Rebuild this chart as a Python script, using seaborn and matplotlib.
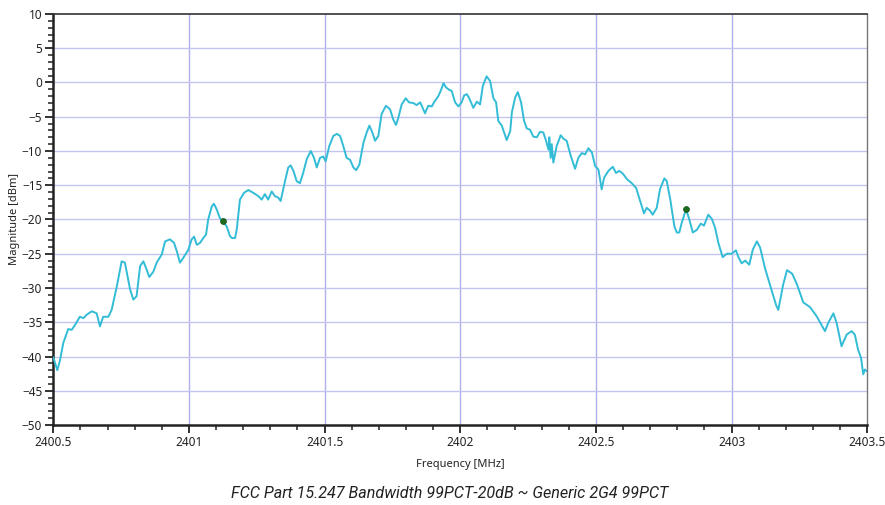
import numpy as np
import pandas as pd
import matplotlib
matplotlib.use("Agg")
import matplotlib.pyplot as plt
import seaborn as sns
from matplotlib.ticker import MultipleLocator

# Spectrum trace
freq_mhz = [
    2400.500, 2400.515, 2400.525, 2400.537, 2400.555, 2400.568, 2400.580, 2400.598,
    2400.611, 2400.623, 2400.642, 2400.660, 2400.672, 2400.684, 2400.703, 2400.715,
    2400.734, 2400.752, 2400.764, 2400.783, 2400.795, 2400.807, 2400.820, 2400.832,
    2400.844, 2400.854, 2400.869, 2400.881, 2400.900, 2400.912, 2400.930, 2400.945,
    2400.955, 2400.967, 2400.979, 2400.998, 2401.010, 2401.019, 2401.029, 2401.041,
    2401.053, 2401.063, 2401.071, 2401.084, 2401.092, 2401.102, 2401.114, 2401.124,
    2401.139, 2401.151, 2401.158, 2401.170, 2401.176, 2401.188, 2401.203, 2401.219,
    2401.237, 2401.256, 2401.268, 2401.280, 2401.292, 2401.305, 2401.317, 2401.329,
    2401.338, 2401.354, 2401.366, 2401.375, 2401.385, 2401.397, 2401.409, 2401.421,
    2401.434, 2401.449, 2401.461, 2401.471, 2401.483, 2401.495, 2401.504, 2401.517,
    2401.532, 2401.545, 2401.557, 2401.569, 2401.581, 2401.594, 2401.606, 2401.616,
    2401.628, 2401.643, 2401.655, 2401.665, 2401.674, 2401.686, 2401.698, 2401.710,
    2401.726, 2401.741, 2401.753, 2401.763, 2401.772, 2401.784, 2401.799, 2401.811,
    2401.827, 2401.839, 2401.852, 2401.858, 2401.870, 2401.882, 2401.895, 2401.903,
    2401.919, 2401.928, 2401.938, 2401.947, 2401.960, 2401.968, 2401.981, 2401.993,
    2402.005, 2402.014, 2402.024, 2402.033, 2402.048, 2402.061, 2402.073, 2402.083,
    2402.097, 2402.110, 2402.122, 2402.132, 2402.140, 2402.153, 2402.171, 2402.184,
    2402.190, 2402.202, 2402.212, 2402.224, 2402.235, 2402.245, 2402.257, 2402.269,
    2402.282, 2402.294, 2402.306, 2402.316, 2402.325, 2402.328, 2402.333, 2402.337,
    2402.343, 2402.355, 2402.370, 2402.380, 2402.392, 2402.407, 2402.423, 2402.435,
    2402.448, 2402.460, 2402.472, 2402.485, 2402.497, 2402.509, 2402.515, 2402.521,
    2402.530, 2402.546, 2402.562, 2402.574, 2402.586, 2402.599, 2402.614, 2402.632,
    2402.648, 2402.663, 2402.677, 2402.687, 2402.699, 2402.709, 2402.724, 2402.736,
    2402.752, 2402.761, 2402.774, 2402.789, 2402.798, 2402.807, 2402.816, 2402.832,
    2402.844, 2402.857, 2402.872, 2402.886, 2402.898, 2402.914, 2402.927, 2402.939,
    2402.951, 2402.967, 2402.982, 2403.000, 2403.016, 2403.025, 2403.037, 2403.050,
    2403.065, 2403.078, 2403.093, 2403.105, 2403.123, 2403.141, 2403.164, 2403.172,
    2403.190, 2403.204, 2403.223, 2403.241, 2403.264, 2403.289, 2403.313, 2403.344,
    2403.356, 2403.375, 2403.387, 2403.405, 2403.424, 2403.442, 2403.454, 2403.466,
    2403.477, 2403.485, 2403.491, 2403.500,
]
magnitude_dbm = [
    -40.1, -42.0, -40.5, -38.0, -36.0, -36.1, -35.4, -34.2,
    -34.4, -33.9, -33.4, -33.7, -35.6, -34.2, -34.2, -33.2,
    -29.8, -26.1, -26.3, -30.2, -31.7, -31.2, -26.8, -26.1,
    -27.3, -28.4, -27.6, -26.3, -25.1, -23.2, -22.9, -23.4,
    -24.6, -26.3, -25.6, -24.4, -22.9, -22.5, -23.7, -23.4,
    -22.7, -22.2, -20.0, -18.1, -17.7, -18.5, -19.8, -20.2,
    -21.0, -22.4, -22.7, -22.7, -21.5, -17.1, -16.1, -15.7,
    -16.1, -16.6, -17.1, -16.3, -17.1, -15.9, -16.6, -16.8,
    -17.3, -14.4, -12.4, -12.1, -12.9, -14.4, -14.7, -13.2,
    -11.2, -10.0, -11.0, -12.4, -11.0, -10.8, -11.5, -9.3,
    -7.8, -7.5, -7.8, -9.3, -11.0, -11.3, -12.4, -12.8,
    -12.0, -8.8, -7.3, -6.3, -7.1, -8.5, -7.8, -4.6,
    -3.4, -3.9, -5.4, -6.2, -5.1, -3.2, -2.3, -2.9,
    -3.0, -3.3, -2.9, -3.4, -4.5, -3.4, -3.5, -2.9,
    -2.0, -1.2, -0.1, -0.7, -1.1, -1.2, -2.9, -3.5,
    -2.9, -1.9, -1.7, -2.3, -3.7, -2.8, -3.2, -0.5,
    0.9, 0.2, -2.3, -2.9, -5.6, -6.3, -8.4, -7.1,
    -4.4, -2.2, -1.4, -2.9, -5.6, -6.7, -6.9, -7.9,
    -8.0, -7.2, -7.3, -8.5, -9.8, -8.0, -11.0, -9.0,
    -11.7, -9.3, -7.7, -8.2, -8.5, -10.7, -12.6, -11.0,
    -10.3, -10.5, -9.6, -10.2, -12.2, -12.7, -14.1, -15.6,
    -13.9, -12.9, -12.3, -13.2, -12.9, -13.3, -14.1, -14.7,
    -15.4, -17.3, -19.1, -18.3, -18.7, -19.3, -18.3, -15.6,
    -14.0, -14.4, -17.1, -21.0, -21.9, -21.9, -20.5, -18.5,
    -20.0, -21.9, -21.5, -20.6, -20.9, -19.3, -19.9, -21.2,
    -23.4, -25.5, -25.0, -25.0, -24.5, -25.5, -26.4, -26.0,
    -26.6, -24.4, -23.2, -24.1, -27.1, -29.5, -32.5, -33.2,
    -29.5, -27.4, -27.9, -29.5, -32.1, -32.8, -34.1, -36.3,
    -35.1, -33.7, -35.1, -38.5, -36.8, -36.3, -36.8, -39.0,
    -40.2, -42.6, -41.9, -42.2,
]

# -20 dB bandwidth markers
marker_freq = [2401.124, 2402.832]
marker_mag = [-20.2, -18.5]

title = "FCC Part 15.247 Bandwidth 99PCT-20dB ~ Generic 2G4 99PCT"

df = pd.DataFrame({"freq": freq_mhz, "mag": magnitude_dbm})
markers = pd.DataFrame({"freq": marker_freq, "mag": marker_mag})

sns.set_style("white")
plt.rcParams["font.family"] = ["Noto Sans", "DejaVu Sans"]

fig = plt.figure(figsize=(8.85, 5.05), dpi=100)
ax = fig.add_axes([0.0602, 0.1584, 0.9198, 0.8139])

sns.lineplot(data=df, x="freq", y="mag", sort=False, estimator=None,
             color="#33bcd6", linewidth=1.4, ax=ax, zorder=3)
sns.scatterplot(data=markers, x="freq", y="mag", color="#1e6b1e",
                s=18, edgecolor="#0f4f0f", linewidth=0.5, ax=ax, zorder=4)

ax.set_xlim(2400.5, 2403.5)
ax.set_ylim(-50, 10)
ax.xaxis.set_major_locator(MultipleLocator(0.5))
ax.xaxis.set_minor_locator(MultipleLocator(0.1))
ax.yaxis.set_major_locator(MultipleLocator(5))
ax.yaxis.set_minor_locator(MultipleLocator(1))
ax.set_xticks([2400.5, 2401, 2401.5, 2402, 2402.5, 2403, 2403.5])
ax.set_xticklabels(["2400.5", "2401", "2401.5", "2402", "2402.5", "2403", "2403.5"])

ax.grid(False)
for v in [2401, 2401.5, 2402, 2402.5, 2403]:
    ax.axvline(v, color="#b0b0ea", linewidth=1.0, zorder=1)
for h in range(-45, 10, 5):
    ax.axhline(h, color="#c4c4f0", linewidth=1.0, zorder=1)

ax.tick_params(axis="both", which="major", direction="out", length=6,
               width=1.3, color="#222222", labelsize=8.5, pad=2, labelcolor="#222222")
ax.tick_params(axis="both", which="minor", direction="out", length=3.6,
               width=1.1, color="#222222")
ax.tick_params(axis="x", which="both", bottom=True)
ax.tick_params(axis="y", which="both", left=True)

ax.spines["left"].set_linewidth(1.8)
ax.spines["bottom"].set_linewidth(1.8)
ax.spines["left"].set_color("#222222")
ax.spines["bottom"].set_color("#222222")
ax.spines["top"].set_linewidth(1.2)
ax.spines["top"].set_color("#333333")
ax.spines["right"].set_linewidth(1.0)
ax.spines["right"].set_color("#777777")

ax.set_xlabel("Frequency [MHz]", fontsize=8, color="#222222", labelpad=7)
ax.set_ylabel("Magnitude [dBm]", fontsize=8, color="#222222", labelpad=1)

fig.text(450 / 885, 0.008, title, ha="center", va="bottom", fontsize=11.6,
         style="italic", family=["Roboto", "DejaVu Sans"], color="#222222")

fig.savefig("out.png", dpi=100)
